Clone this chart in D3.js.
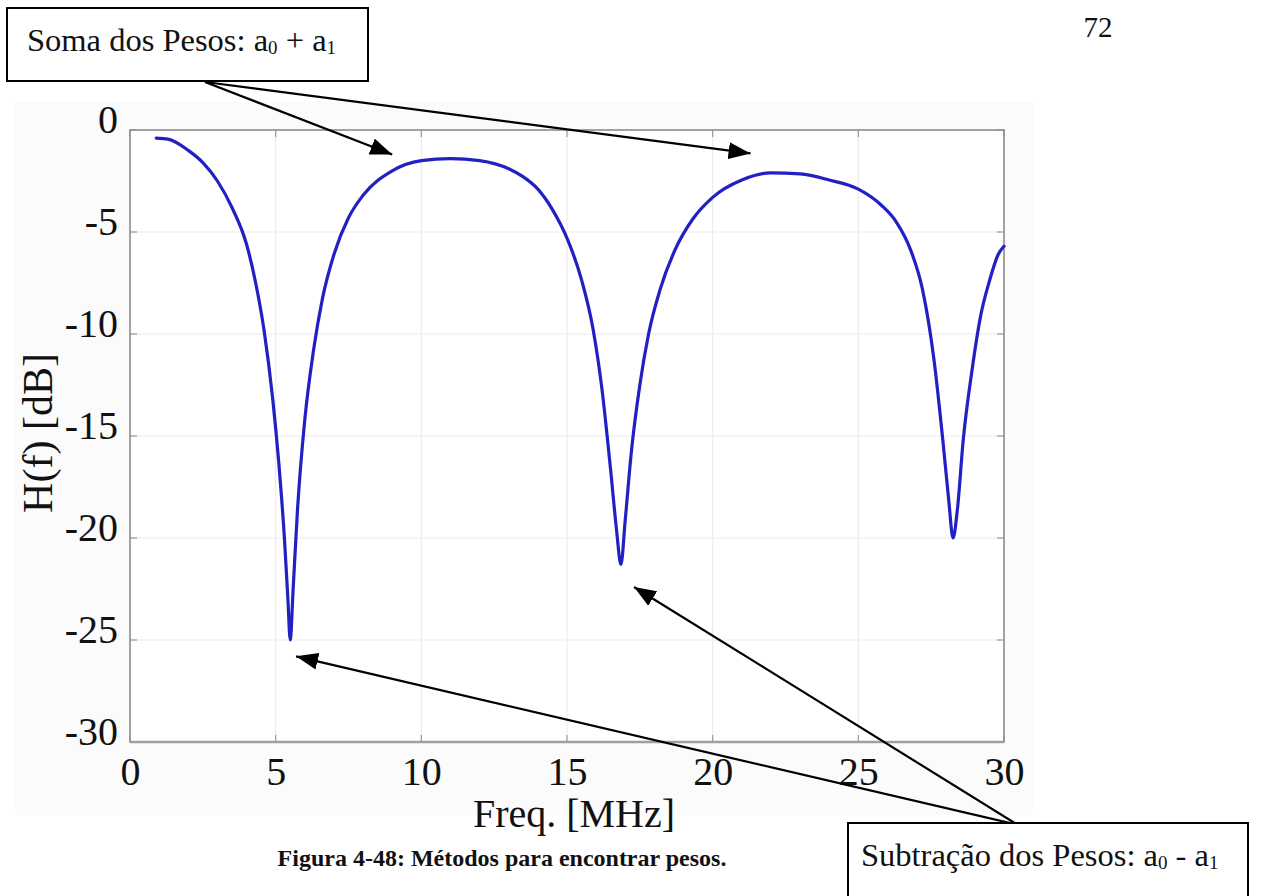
<!DOCTYPE html>
<html>
<head>
<meta charset="utf-8">
<script src="https://cdn.jsdelivr.net/npm/d3@7"></script>
<style>
  html, body { margin: 0; padding: 0; background: #fff; }
  svg { display: block; }
  text { font-family: "Liberation Serif", "Times New Roman", serif; fill: #111; }
</style>
</head>
<body>
<svg id="chart" width="1263" height="896"></svg>
<script>
// Frequency response of the two-tap weight combination, read in MHz / dB
const freqMHz = [0.9, 1.3, 2.0, 2.5, 3.0, 3.5, 4.0, 4.3, 4.6, 4.9, 5.1, 5.3, 5.42, 5.5, 5.6, 5.75, 6.0, 6.3, 6.6, 7.0, 7.5, 8.0, 9.0, 10.0, 11.0, 12.0, 13.0, 13.5, 14.0, 14.5, 15.0, 15.5, 15.9, 16.2, 16.5, 16.7, 16.85, 17.0, 17.2, 17.5, 17.8, 18.2, 18.7, 19.3, 20.0, 21.0, 22.0, 23.0, 24.0, 25.0, 25.8, 26.3, 26.8, 27.2, 27.6, 27.9, 28.1, 28.25, 28.4, 28.6, 28.9, 29.2, 29.5, 29.8, 30.0];
const gainDB  = [-0.4, -0.45, -1.0, -1.6, -2.5, -3.8, -5.6, -7.4, -9.8, -13.2, -16.2, -20.0, -23.0, -25.0, -22.5, -18.6, -14.2, -10.8, -8.3, -6.1, -4.3, -3.2, -2.0, -1.5, -1.4, -1.5, -1.9, -2.3, -2.9, -3.9, -5.3, -7.35, -9.8, -12.7, -16.7, -19.6, -21.3, -19.1, -15.9, -12.5, -10.0, -7.8, -5.9, -4.4, -3.3, -2.45, -2.1, -2.15, -2.45, -2.9, -3.7, -4.5, -5.9, -7.8, -11.3, -15.2, -18.1, -20.0, -18.6, -15.2, -11.8, -9.1, -7.4, -6.1, -5.7];

const xTicks = [0, 5, 10, 15, 20, 25, 30];
const yTicks = [0, -5, -10, -15, -20, -25, -30];

const xLabel = "Freq. [MHz]";
const yLabel = "H(f) [dB]";
const pageNumber = "72";
const caption = "Figura 4-48: Métodos para encontrar pesos.";

// Annotation targets, in data units (MHz, dB)
const sumTargets = [[9.0, -1.2], [21.3, -1.15]];
const diffTargets = [[5.7, -25.8], [17.3, -22.4]];

const svg = d3.select("#chart");
const plot = { left: 130, right: 1004, top: 130, bottom: 742 };

const x = d3.scaleLinear().domain([0, 30]).range([plot.left, plot.right]);
const y = d3.scaleLinear().domain([-30, 0]).range([plot.bottom, plot.top]);

// faint figure backdrop
svg.append("rect")
  .attr("x", 15).attr("y", 102).attr("width", 1018).attr("height", 713)
  .attr("fill", "#fbfbfb");

// plot area
svg.append("rect")
  .attr("x", plot.left).attr("y", plot.top)
  .attr("width", plot.right - plot.left).attr("height", plot.bottom - plot.top)
  .attr("fill", "#fff");

// grid
const grid = svg.append("g").attr("stroke", "#ececec").attr("stroke-width", 1.2);
grid.selectAll("line.gx").data(xTicks.slice(1, -1)).join("line")
  .attr("x1", d => x(d)).attr("x2", d => x(d))
  .attr("y1", plot.top).attr("y2", plot.bottom);
grid.selectAll("line.gy").data(yTicks.slice(1, -1)).join("line")
  .attr("y1", d => y(d)).attr("y2", d => y(d))
  .attr("x1", plot.left).attr("x2", plot.right);

// inward tick marks on all four sides
const ticks = svg.append("g").attr("stroke", "#999").attr("stroke-width", 1.2);
ticks.selectAll("line.tl").data(yTicks).join("line")
  .attr("x1", plot.left).attr("x2", plot.left + 7).attr("y1", d => y(d)).attr("y2", d => y(d));
ticks.selectAll("line.tr").data(yTicks).join("line")
  .attr("x1", plot.right).attr("x2", plot.right - 7).attr("y1", d => y(d)).attr("y2", d => y(d));
ticks.selectAll("line.tb").data(xTicks).join("line")
  .attr("y1", plot.bottom).attr("y2", plot.bottom - 7).attr("x1", d => x(d)).attr("x2", d => x(d));
ticks.selectAll("line.tt").data(xTicks).join("line")
  .attr("y1", plot.top).attr("y2", plot.top + 7).attr("x1", d => x(d)).attr("x2", d => x(d));

// frame
svg.append("rect")
  .attr("x", plot.left).attr("y", plot.top)
  .attr("width", plot.right - plot.left).attr("height", plot.bottom - plot.top)
  .attr("fill", "none").attr("stroke", "#8c8c8c").attr("stroke-width", 1.6);
svg.append("line")
  .attr("x1", plot.left).attr("x2", plot.right)
  .attr("y1", plot.bottom).attr("y2", plot.bottom)
  .attr("stroke", "#a0a0a0").attr("stroke-width", 2.5);

// axes (labels only; lines drawn above)
const xAxis = svg.append("g")
  .attr("transform", `translate(0,${plot.bottom})`)
  .call(d3.axisBottom(x).tickValues(xTicks).tickSize(0).tickPadding(15).tickFormat(d3.format("d")));
const yAxis = svg.append("g")
  .attr("transform", `translate(${plot.left},0)`)
  .call(d3.axisLeft(y).tickValues(yTicks).tickSize(0).tickPadding(12).tickFormat(d => d3.format("d")(d).replace("−", "-")));
[xAxis, yAxis].forEach(g => {
  g.select(".domain").remove();
  g.selectAll("text")
    .style("font-family", '"Liberation Serif", "Times New Roman", serif')
    .style("font-size", "40px").attr("fill", "#222");
});
yAxis.selectAll("text").attr("dy", "0.07em");

svg.append("text")
  .attr("x", 574).attr("y", 827)
  .attr("text-anchor", "middle")
  .style("font-size", "40px").attr("fill", "#222")
  .text(xLabel);
svg.append("text")
  .attr("transform", "translate(52,433) rotate(-90)")
  .attr("text-anchor", "middle")
  .style("font-size", "42px").attr("fill", "#222")
  .text(yLabel);

// response curve
const line = d3.line()
  .x((d, i) => x(freqMHz[i]))
  .y(d => y(d))
  .curve(d3.curveMonotoneX);
svg.append("path")
  .datum(gainDB)
  .attr("d", line)
  .attr("fill", "none")
  .attr("stroke", "#2020c4")
  .attr("stroke-width", 3.2)
  .attr("stroke-linejoin", "round")
  .attr("stroke-linecap", "round");

// page number
svg.append("text")
  .attr("x", 1098).attr("y", 37)
  .attr("text-anchor", "middle")
  .style("font-size", "29px")
  .text(pageNumber);

// arrow marker
svg.append("defs").append("marker")
  .attr("id", "head")
  .attr("viewBox", "0 0 12 10")
  .attr("refX", 12).attr("refY", 5)
  .attr("markerWidth", 22).attr("markerHeight", 17)
  .attr("markerUnits", "userSpaceOnUse")
  .attr("orient", "auto")
  .attr("preserveAspectRatio", "none")
  .append("path").attr("d", "M0,0 L12,5 L0,10 Z").attr("fill", "#000");

function arrow(x1, y1, x2, y2) {
  svg.append("line")
    .attr("x1", x1).attr("y1", y1).attr("x2", x2).attr("y2", y2)
    .attr("stroke", "#000").attr("stroke-width", 2.2)
    .attr("marker-end", "url(#head)");
}

// annotation boxes
function labelBox(bx, by, bw, bh, tx, ty, base, sub1, op, sub2) {
  svg.append("rect")
    .attr("x", bx).attr("y", by).attr("width", bw).attr("height", bh)
    .attr("fill", "#fff").attr("stroke", "#000").attr("stroke-width", 2);
  const t = svg.append("text").attr("x", tx).attr("y", ty).style("font-size", "32.5px").attr("fill", "#000");
  t.append("tspan").text(base + "a");
  t.append("tspan").attr("dy", 3).style("font-size", "19px").text(sub1);
  t.append("tspan").attr("dy", -3).text(" " + op + " a");
  t.append("tspan").attr("dy", 3).style("font-size", "19px").text(sub2);
}

const sumStart = [205, 82];
sumTargets.forEach(([f, v]) => arrow(sumStart[0], sumStart[1], x(f), y(v)));
labelBox(7, 8, 361, 73, 27, 51, "Soma dos Pesos: ", "0", "+", "1");

const diffStart = [1018, 825];
diffTargets.forEach(([f, v]) => arrow(diffStart[0], diffStart[1], x(f), y(v)));
labelBox(848, 823, 400, 90, 861, 866, "Subtração dos Pesos: ", "0", "-", "1");

// caption
svg.append("text")
  .attr("x", 502).attr("y", 866)
  .attr("text-anchor", "middle")
  .style("font-size", "24px").style("font-weight", "bold").attr("fill", "#000")
  .text(caption);
</script>
</body>
</html>
